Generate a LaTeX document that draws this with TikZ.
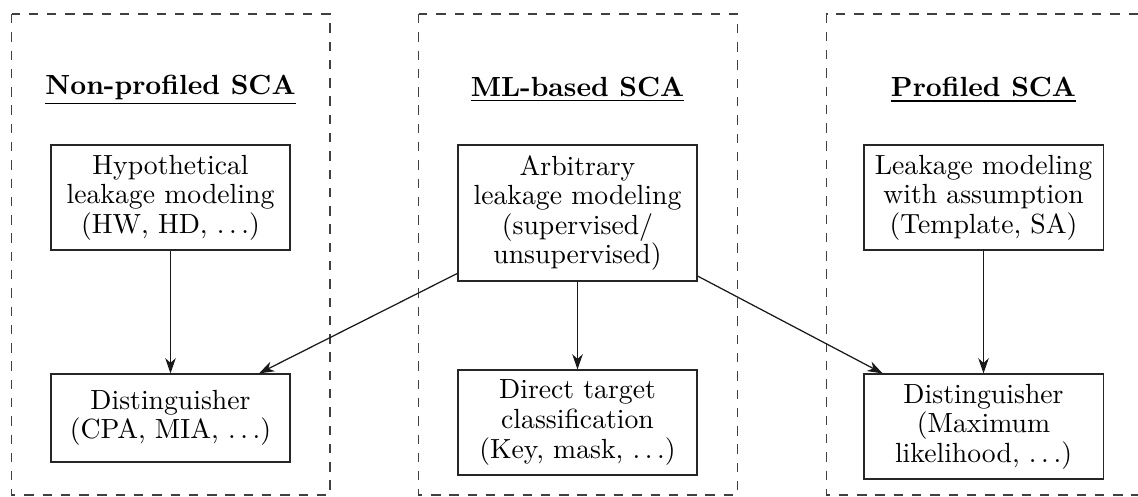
\documentclass[tikz,border=0pt]{standalone}
\usetikzlibrary{arrows.meta}
\begin{document}
\begin{tikzpicture}[
  x=0.361pt, y=-0.361pt,
  group/.style={draw=black!75, line width=0.4pt, dash pattern=on 3.4pt off 3.2pt},
  stage/.style={draw=black!85, line width=0.4pt, align=center, inner sep=2pt,
    minimum width=86.3pt, font=\fontsize{10pt}{10.65pt}\selectfont},
  head/.style={font=\bfseries, inner sep=1pt},
  flow/.style={draw=black!90, line width=0.45pt,
    -{Stealth[length=5.5pt, width=3.8pt, inset=1.7pt]}}
]
\useasboundingbox (0,0) rectangle (1138,497);

% approach groups
\draw[group] (11.7,14) rectangle (330,495);
\draw[group] (418.5,14) rectangle (737.3,495);
\draw[group] (1138,14) -- (826.7,14) -- (826.7,495) -- (1138,495);

% group titles
\node[head] (hnp) at (170.5,90) {\underline{Non-profiled SCA}};
\node[head] (hml) at (577.5,90) {\underline{ML-based SCA}};
\node[head] (hpr) at (983.5,90) {\underline{Profiled SCA}};

% modeling stage
\node[stage, minimum height=37.9pt] (hyp) at (170.5,197.5)
  {Hypothetical\\leakage modeling\\(HW, HD, $\ldots$)};
\node[stage, minimum height=49.1pt] (arb) at (577.5,213)
  {Arbitrary\\leakage modeling\\(supervised/\\unsupervised)};
\node[stage, minimum height=37.9pt] (prof) at (983.5,197.5)
  {Leakage modeling\\with assumption\\(Template, SA)};

% decision stage
\node[stage, minimum height=31.8pt] (dnp) at (170.5,418)
  {Distinguisher\\(CPA, MIA, $\ldots$)};
\node[stage, minimum height=37.9pt] (dtc) at (577.5,422.5)
  {Direct target\\classification\\(Key, mask, $\ldots$)};
\node[stage, minimum height=37.9pt] (dp) at (983.5,426.5)
  {Distinguisher\\(Maximum\\likelihood, $\ldots$)};

% connections
\draw[flow] (hyp) -- (dnp);
\draw[flow] (arb) -- (dtc);
\draw[flow] (prof) -- (dp);
\draw[flow] (arb) -- (dnp);
\draw[flow] (arb) -- (dp);
\end{tikzpicture}
\end{document}
